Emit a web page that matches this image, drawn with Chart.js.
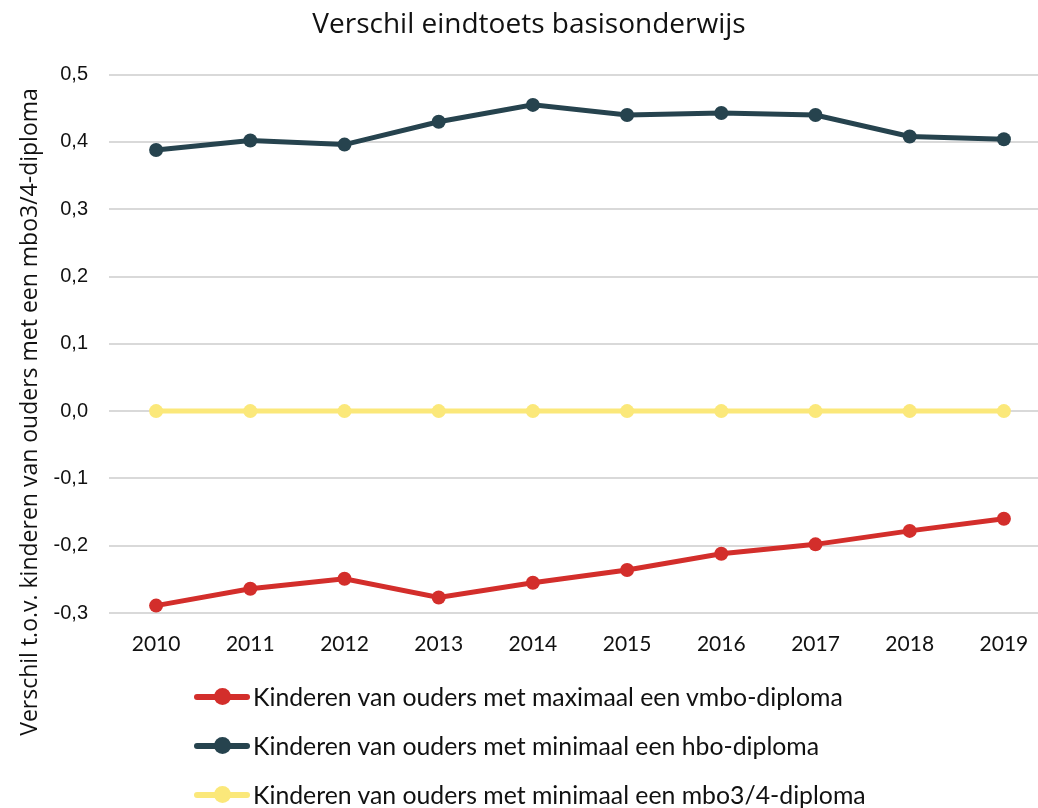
<!DOCTYPE html>
<html>
<head>
<meta charset="utf-8">
<script src="https://cdn.jsdelivr.net/npm/chart.js@4.4.1/dist/chart.umd.min.js"></script>
<style>
  html, body { margin: 0; padding: 0; background: #fff; overflow: hidden; }
  #wrap { position: relative; width: 1038px; height: 808px; overflow: hidden; }
  #c { position: absolute; left: 0; top: 0; }
  #legend { position: absolute; left: 194px; top: 672px; font-family: Lato, sans-serif; font-size: 24.8px; color: #111; }
  .item { display: flex; align-items: center; height: 49px; }
  .mk { position: relative; width: 56px; height: 17px; margin-right: 3px; }
  .mk .ln { position: absolute; left: 0; right: 0; top: 5.5px; height: 6px; border-radius: 3px; }
  .mk .dt { position: absolute; left: 20px; top: 0; width: 17px; height: 17px; border-radius: 50%; }
</style>
</head>
<body>
<div id="wrap">
  <canvas id="c" width="1058" height="808"></canvas>
  <div id="legend"></div>
</div>
<script>
const years = ['2010','2011','2012','2013','2014','2015','2016','2017','2018','2019'];
const vmboValues = [-0.289, -0.264, -0.249, -0.277, -0.255, -0.236, -0.212, -0.198, -0.178, -0.160];
const hboValues = [0.388, 0.402, 0.396, 0.430, 0.455, 0.440, 0.443, 0.440, 0.408, 0.404];
const mboValues = [0, 0, 0, 0, 0, 0, 0, 0, 0, 0];
const seriesNames = [
  'Kinderen van ouders met maximaal een vmbo-diploma',
  'Kinderen van ouders met minimaal een hbo-diploma',
  'Kinderen van ouders met minimaal een mbo3/4-diploma'
];
const chartTitle = 'Verschil eindtoets basisonderwijs';
const yTitle = 'Verschil t.o.v. kinderen van ouders met een mbo3/4-diploma';
const yMin = -0.3, yMax = 0.5, yStep = 0.1;

const colors = ['#d32e2b', '#26434e', '#fbe87a'];
const seriesValues = [vmboValues, hboValues, mboValues];

const yTitlePlugin = {
  id: 'yTitle',
  afterDraw(chart) {
    const ctx = chart.ctx;
    ctx.save();
    ctx.translate(30, 412);
    ctx.rotate(-Math.PI / 2);
    ctx.font = '23px "Open Sans", sans-serif';
    ctx.fillStyle = '#111';
    ctx.textAlign = 'center';
    ctx.textBaseline = 'middle';
    ctx.fillText(yTitle, 0, 0);
    ctx.restore();
  }
};

const datasets = seriesValues.map((vals, i) => ({
  label: seriesNames[i],
  data: vals,
  borderColor: colors[i],
  backgroundColor: colors[i],
  borderWidth: 5,
  pointRadius: 7,
  pointHoverRadius: 7,
  pointBorderWidth: 0,
  tension: 0,
  order: i === 2 ? 3 : i
}));

new Chart(document.getElementById('c'), {
  type: 'line',
  data: { labels: years, datasets },
  plugins: [yTitlePlugin],
  options: {
    responsive: false,
    animation: false,
    devicePixelRatio: 1,
    layout: { padding: { left: 0, right: 0, top: 0, bottom: 135 } },
    plugins: {
      legend: { display: false },
      tooltip: { enabled: false },
      title: {
        display: true,
        text: chartTitle,
        color: '#111',
        font: { family: '"Open Sans", sans-serif', size: 28, weight: 'normal', lineHeight: 1.2 },
        padding: { top: 8, bottom: 33 }
      }
    },
    scales: {
      x: {
        offset: true,
        grid: { display: false, drawTicks: false, offset: true },
        border: { display: false },
        ticks: { color: '#111', font: { family: 'Lato, sans-serif', size: 21 }, padding: 19, maxRotation: 0 },
        afterFit(s) { s.height = 60; s.paddingRight = 0; s.paddingLeft = 0; }
      },
      y: {
        min: yMin, max: yMax,
        grid: { color: '#d9d9d9', lineWidth: 2, drawTicks: false },
        border: { display: false },
        ticks: {
          stepSize: yStep,
          color: '#111',
          padding: 21,
          font: { family: '"Liberation Sans", sans-serif', size: 20 },
          callback: v => (Math.round(v * 10) / 10).toFixed(1).replace('.', ',')
        },
        afterFit(s) { s.width = 109; }
      }
    }
  }
});

const lg = document.getElementById('legend');
seriesNames.forEach((name, i) => {
  const it = document.createElement('div');
  it.className = 'item';
  it.innerHTML = '<div class="mk"><div class="ln" style="background:' + colors[i] + '"></div><div class="dt" style="background:' + colors[i] + '"></div></div><span></span>';
  it.querySelector('span').textContent = name;
  lg.appendChild(it);
});
</script>
</body>
</html>
